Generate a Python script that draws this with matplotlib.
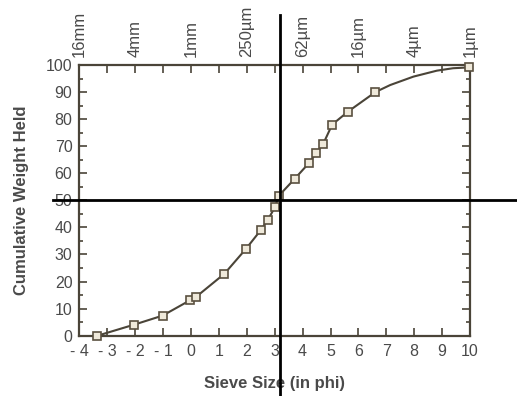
#!/usr/bin/env python3
# cumulative grain size curve, sieve data in phi units
import matplotlib
matplotlib.use('Agg')
from matplotlib import pyplot as plt
from matplotlib.ticker import MultipleLocator

# sieve samples (drawn with markers)
phi = [-3.35, -2.03, -1.02, -0.03, 0.19, 1.2, 1.98, 2.5, 2.76, 3.01, 3.14,
       3.72, 4.23, 4.49, 4.74, 5.06, 5.63, 6.61, 9.96]
cum_weight = [0.0, 4.1, 7.4, 13.1, 14.4, 22.9, 32.2, 39.0, 42.9, 47.5, 51.6,
              58.0, 63.8, 67.5, 70.9, 78.0, 82.8, 90.0, 99.1]

# hand-drawn curve in the fine tail (line only)
tail_phi = [6.61, 7.14, 7.97, 8.81, 9.39, 9.96]
tail_weight = [90.0, 92.6, 95.7, 97.9, 98.8, 99.1]

x_ticks = list(range(-4, 11))
x_labels = ['- 4', '- 3', '- 2', '- 1', '0', '1', '2', '3', '4', '5', '6', '7', '8', '9', '10']
top_ticks = [-4, -2, 0, 2, 4, 6, 8, 10]
top_labels = ['16mm', '4mm', '1mm', '250\u00b5m', '62\u00b5m', '16\u00b5m', '4\u00b5m', '1\u00b5m']
phi_median = 3.19

plt.rcParams['font.family'] = ['Liberation Sans', 'DejaVu Sans']
text_col = '#4a4a4a'
line_col = '#4a4438'

fig = plt.figure(figsize=(5.17, 3.96), dpi=100)
ax = fig.add_axes([0.1535, 0.1523, 0.7557, 0.6836])

ax.plot(phi[:-1], cum_weight[:-1], color=line_col, lw=1.5, clip_on=False, zorder=3)
ax.plot(tail_phi, tail_weight, color=line_col, lw=1.5, clip_on=False, zorder=3)
ax.plot(phi, cum_weight, linestyle='none', marker='s', markersize=6,
        markerfacecolor='#efe9da', markeredgecolor='#5a5040', markeredgewidth=1.2,
        clip_on=False, zorder=3)

ax.set_xlim(-4, 10)
ax.set_ylim(0, 100)
ax.set_xticks(x_ticks)
ax.set_xticklabels(x_labels)
ax.yaxis.set_major_locator(MultipleLocator(10))
ax.yaxis.set_minor_locator(MultipleLocator(5))
ax.tick_params(axis='both', which='major', direction='in', length=6, width=1.2,
               colors=line_col, labelcolor=text_col, labelsize=11.5,
               top=True, right=True)
ax.tick_params(axis='y', which='minor', direction='in', length=3, width=1.2,
               colors=line_col, right=True)
ax.tick_params(axis='x', pad=6)
ax.tick_params(axis='y', pad=5)

for s in ax.spines.values():
    s.set_color(line_col)
    s.set_linewidth(1.6)

top = ax.secondary_xaxis('top')
top.set_xticks(top_ticks)
top.set_xticklabels(top_labels, rotation=90)
top.tick_params(length=0, labelsize=12, labelcolor=text_col, pad=6)
top.spines['top'].set_visible(False)

ax.set_xlabel('Sieve Size (in phi)', fontweight='bold', color=text_col, fontsize=12, labelpad=12)
ax.set_ylabel('Cumulative Weight Held', fontweight='bold', color=text_col, fontsize=12, labelpad=12)

# crosshair at the 50% value
ax.axvline(phi_median, ymin=-0.23, ymax=1.185, color='black', lw=2, clip_on=False, zorder=4)
ax.axhline(50, xmin=-0.068, xmax=1.13, color='black', lw=2, clip_on=False, zorder=4)

plt.savefig('out.png', dpi=100)
